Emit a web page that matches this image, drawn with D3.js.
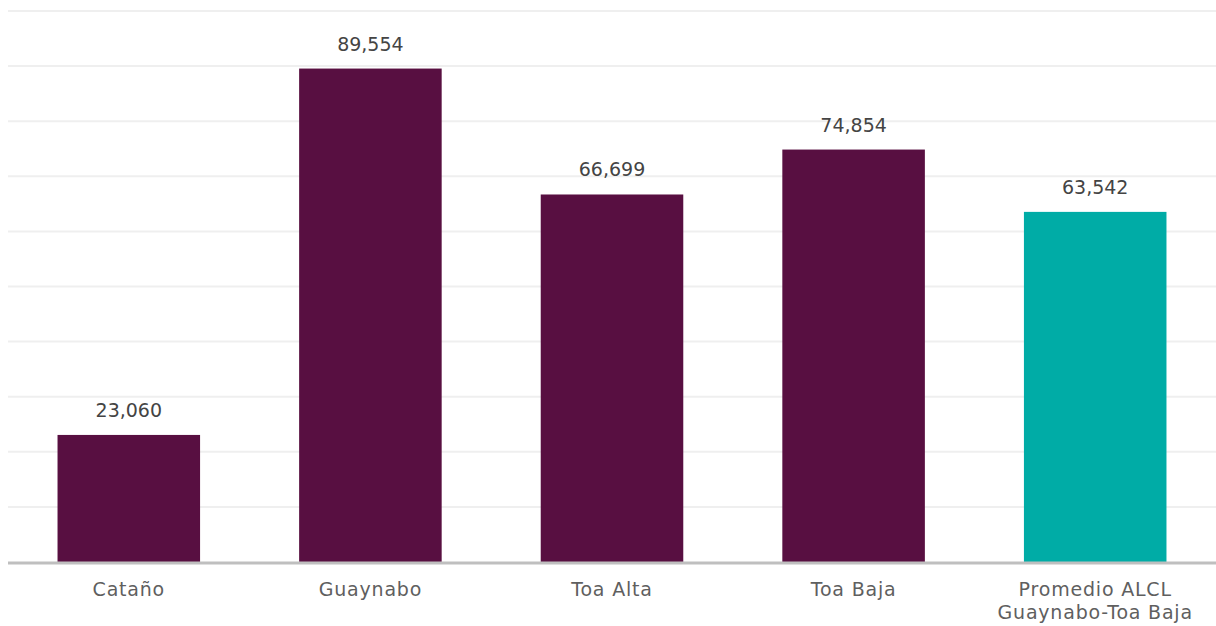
<!DOCTYPE html>
<html lang="es">
<head>
  <meta charset="UTF-8">
  <title>Chart</title>
  <style>
    body { margin: 0; background: #fff; }
    text { font-family: "DejaVu Sans", "Open Sans", sans-serif; }
  </style>
</head>
<body>
  <script src="https://cdnjs.cloudflare.com/ajax/libs/d3/7.8.5/d3.min.js"></script>
  <script>
    const categories = ['Cataño', 'Guaynabo', 'Toa Alta', 'Toa Baja', 'Promedio ALCL\nGuaynabo-Toa Baja']
    const values = [23060, 89554, 66699, 74854, 63542]
    const colors = ['#580f41', '#580f41', '#580f41', '#580f41', '#00aca6']
    const gridTicks = d3.range(10000, 100001, 10000)

    const width = 1216
    const height = 626
    const margin = { left: 8, right: 0, top: 11, bottom: 64 }

    const svg = d3.select('body').append('svg')
      .attr('width', width)
      .attr('height', height)

    const x = d3.scaleBand()
      .domain(d3.range(categories.length))
      .range([margin.left, width - margin.right])
      .paddingInner(0.41)
      .paddingOuter(0.205)

    const y = d3.scaleLinear()
      .domain([0, 100000])
      .range([height - margin.bottom, margin.top])

    // gridlines
    svg.append('g')
      .selectAll('line')
      .data(gridTicks)
      .join('line')
      .attr('x1', margin.left)
      .attr('x2', width - margin.right)
      .attr('y1', d => y(d))
      .attr('y2', d => y(d))
      .attr('stroke', '#efefef')
      .attr('stroke-width', 2)

    // bars
    svg.append('g')
      .selectAll('rect')
      .data(values)
      .join('rect')
      .attr('x', (d, i) => x(i))
      .attr('y', d => y(d))
      .attr('width', x.bandwidth())
      .attr('height', d => y(0) - y(d))
      .attr('fill', (d, i) => colors[i])

    // value labels
    svg.append('g')
      .selectAll('text')
      .data(values)
      .join('text')
      .attr('x', (d, i) => x(i) + x.bandwidth() / 2)
      .attr('y', d => y(d) - 18)
      .attr('text-anchor', 'middle')
      .attr('font-size', 19)
      .attr('fill', '#444')
      .text(d => d3.format(',')(d))

    // baseline
    svg.append('line')
      .attr('x1', margin.left)
      .attr('x2', width - margin.right)
      .attr('y1', y(0) + 1)
      .attr('y2', y(0) + 1)
      .attr('stroke', '#bfbfbf')
      .attr('stroke-width', 3)

    // category labels
    const xAxis = d3.axisBottom(x).tickSize(0).tickFormat(i => categories[i])
    const ax = svg.append('g')
      .attr('transform', `translate(0,${y(0)})`)
      .call(xAxis)
    ax.select('.domain').remove()
    ax.selectAll('text').each(function (i) {
      const t = d3.select(this)
      const lines = categories[i].split('\n')
      t.text(null)
        .attr('y', 0)
        .attr('dy', null)
        .attr('font-size', 19)
        .attr('fill', '#5f5f5f')
        .attr('letter-spacing', 0.8)
      lines.forEach((l, k) => {
        t.append('tspan')
          .attr('x', 0)
          .attr('y', 34 + k * 23)
          .text(l)
      })
    })
  </script>
</body>
</html>
